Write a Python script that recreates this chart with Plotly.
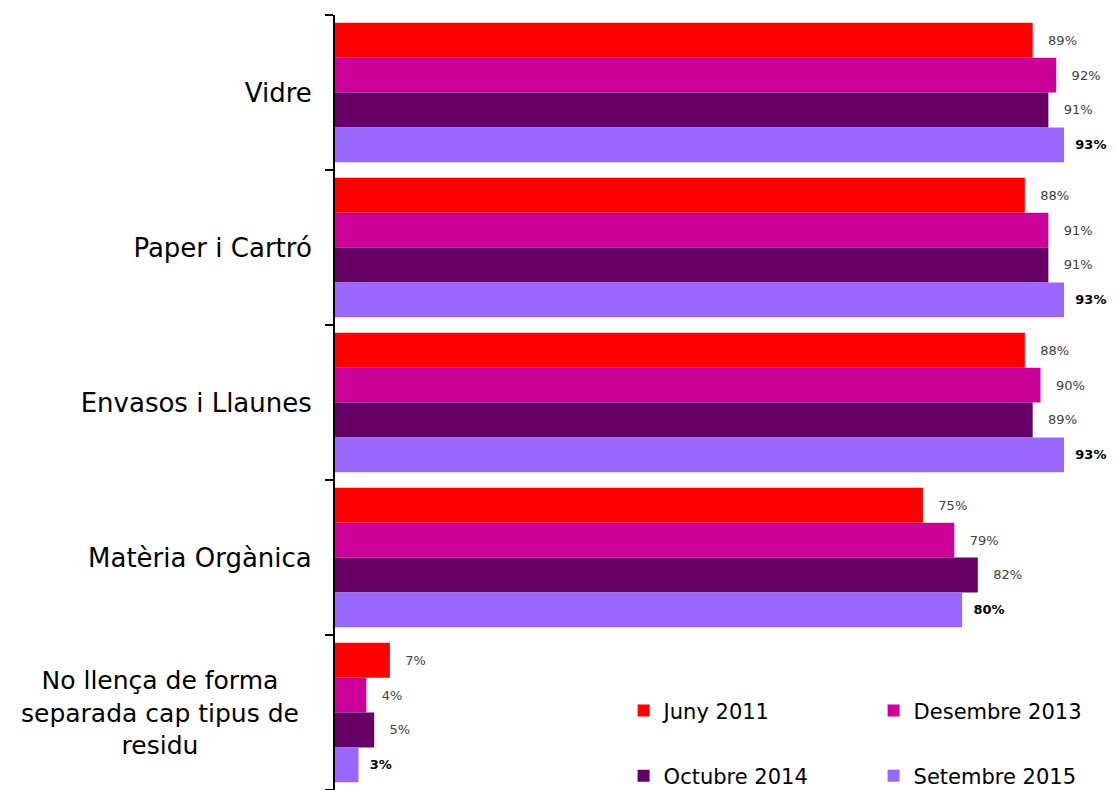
import plotly.graph_objects as go

# data
categories = ['Vidre', 'Paper i Cartró', 'Envasos i Llaunes', 'Matèria Orgànica',
              'No llença de forma separada cap tipus de residu']
tick_labels = ['Vidre', 'Paper i Cartró', 'Envasos i Llaunes', 'Matèria Orgànica', '']
last_label = 'No llença de forma<br>separada cap tipus de<br>residu'

series_names = ['Juny 2011', 'Desembre 2013', 'Octubre 2014', 'Setembre 2015']
juny_2011 = [89, 88, 88, 75, 7]
desembre_2013 = [92, 91, 90, 79, 4]
octubre_2014 = [91, 91, 89, 82, 5]
setembre_2015 = [93, 93, 93, 80, 3]

colors = ['#ff0000', '#cc0099', '#660066', '#9966ff']
legends = ['legend', 'legend', 'legend2', 'legend2']

font_family = 'DejaVu Sans'

fig = go.Figure()

all_values = [juny_2011, desembre_2013, octubre_2014, setembre_2015]
for i, (name, vals) in enumerate(zip(series_names, all_values)):
    bold = i == 3
    fig.add_trace(go.Bar(
        y=categories, x=vals, name=name, orientation='h',
        marker=dict(color=colors[i], line=dict(width=0)),
        text=[f'<b>{v}%</b>' if bold else f'{v}%' for v in vals],
        textposition='outside',
        texttemplate=('&nbsp;&nbsp;%{text}' if bold else '&nbsp;&nbsp;&nbsp;%{text}'),
        textfont=dict(size=13, color='#000000' if bold else '#404040', family=font_family),
        cliponaxis=False,
        legend=legends[i],
    ))

# page body has an 8px margin, so the figure is a bit smaller than the window
fig.update_layout(
    width=1107, height=782,
    margin=dict(l=327, r=0, t=7, b=0, autoexpand=False),
    barmode='group', bargap=0.1, bargroupgap=0,
    plot_bgcolor='white', paper_bgcolor='white',
    font=dict(family=font_family, color='#000000'),
    showlegend=True,
    legend=dict(orientation='h', x=0.37, y=0.102, xanchor='left', yanchor='middle',
                entrywidth=205, font=dict(size=21), bgcolor='rgba(0,0,0,0)'),
    legend2=dict(orientation='h', x=0.37, y=0.018, xanchor='left', yanchor='middle',
                 entrywidth=205, font=dict(size=21), bgcolor='rgba(0,0,0,0)'),
)

fig.update_xaxes(range=[0, 99.5], visible=False, showgrid=False)
fig.update_yaxes(
    autorange='reversed', tickmode='array', tickvals=categories, ticktext=tick_labels,
    showline=True, linecolor='black', linewidth=2, automargin=False,
    ticks='outside', tickson='boundaries', ticklen=8, tickcolor='black', tickwidth=2,
    tickfont=dict(size=26, color='#000000'), ticklabelstandoff=16, showgrid=False,
)

fig.add_annotation(
    text=last_label, xref='paper', yref='y', x=-0.224, y=categories[4],
    xanchor='center', yanchor='middle', align='center', showarrow=False,
    font=dict(size=25, color='#000000', family=font_family),
)

fig.write_html('out.html')
